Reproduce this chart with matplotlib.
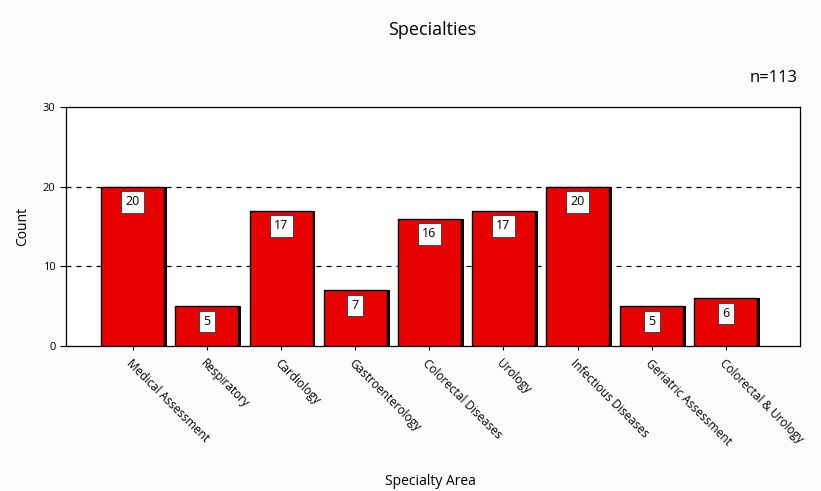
import matplotlib.pyplot as plt
import numpy as np

specialties = ['Medical Assessment', 'Respiratory', 'Cardiology', 'Gastroenterology',
               'Colorectal Diseases', 'Urology', 'Infectious Diseases',
               'Geriatric Assessment', 'Colorectal & Urology']
counts = [20, 5, 17, 7, 16, 17, 20, 5, 6]
total_n = 113

plt.rcParams['font.family'] = ['Open Sans', 'DejaVu Sans']

fig = plt.figure(figsize=(8.21, 4.91), dpi=100)
fig.patch.set_facecolor('#fbfcfd')
ax = fig.add_axes([0.0804, 0.2953, 0.894, 0.4867])
ax.set_facecolor('white')

x = np.arange(len(specialties))
w = 0.85
# shadow then the red bars
ax.bar(x + 0.04, counts, width=w, color='black', zorder=2)
ax.bar(x, counts, width=w, color='#e60000', edgecolor='black', linewidth=1, zorder=3)

for xi, c in zip(x, counts):
    ax.annotate(str(c), (xi, c), xytext=(0, -11), textcoords='offset points',
                ha='center', va='center', fontsize=9, zorder=4,
                bbox=dict(boxstyle='square,pad=0.35', fc='white', ec='#333333', lw=0.6))

ax.set_xlim(-0.9, 9.0)
ax.set_ylim(0, 30)
ax.set_yticks([0, 10, 20, 30])
ax.set_xticks(x)
ax.set_xticklabels(specialties, rotation=-45, ha='left', va='top',
                   rotation_mode='anchor', fontsize=8.5)
ax.tick_params(axis='y', labelsize=8, length=4, width=0.8)
ax.tick_params(axis='x', length=3, width=0.8, pad=5)
for yv in (10, 20):
    ax.axhline(yv, color='black', linestyle=(0, (4, 4)), linewidth=0.9, zorder=1)
for s in ax.spines.values():
    s.set_linewidth(0.9)

ax.set_ylabel('Count', fontsize=10, labelpad=9)
fig.text(0.526, 0.938, 'Specialties', ha='center', va='center', fontsize=13)
fig.text(0.971, 0.842, f'n={total_n}', ha='right', va='center', fontsize=12)
fig.text(0.524, 0.02, 'Specialty Area', ha='center', va='center', fontsize=10)

fig.savefig('out.png', dpi=100, facecolor=fig.get_facecolor())
